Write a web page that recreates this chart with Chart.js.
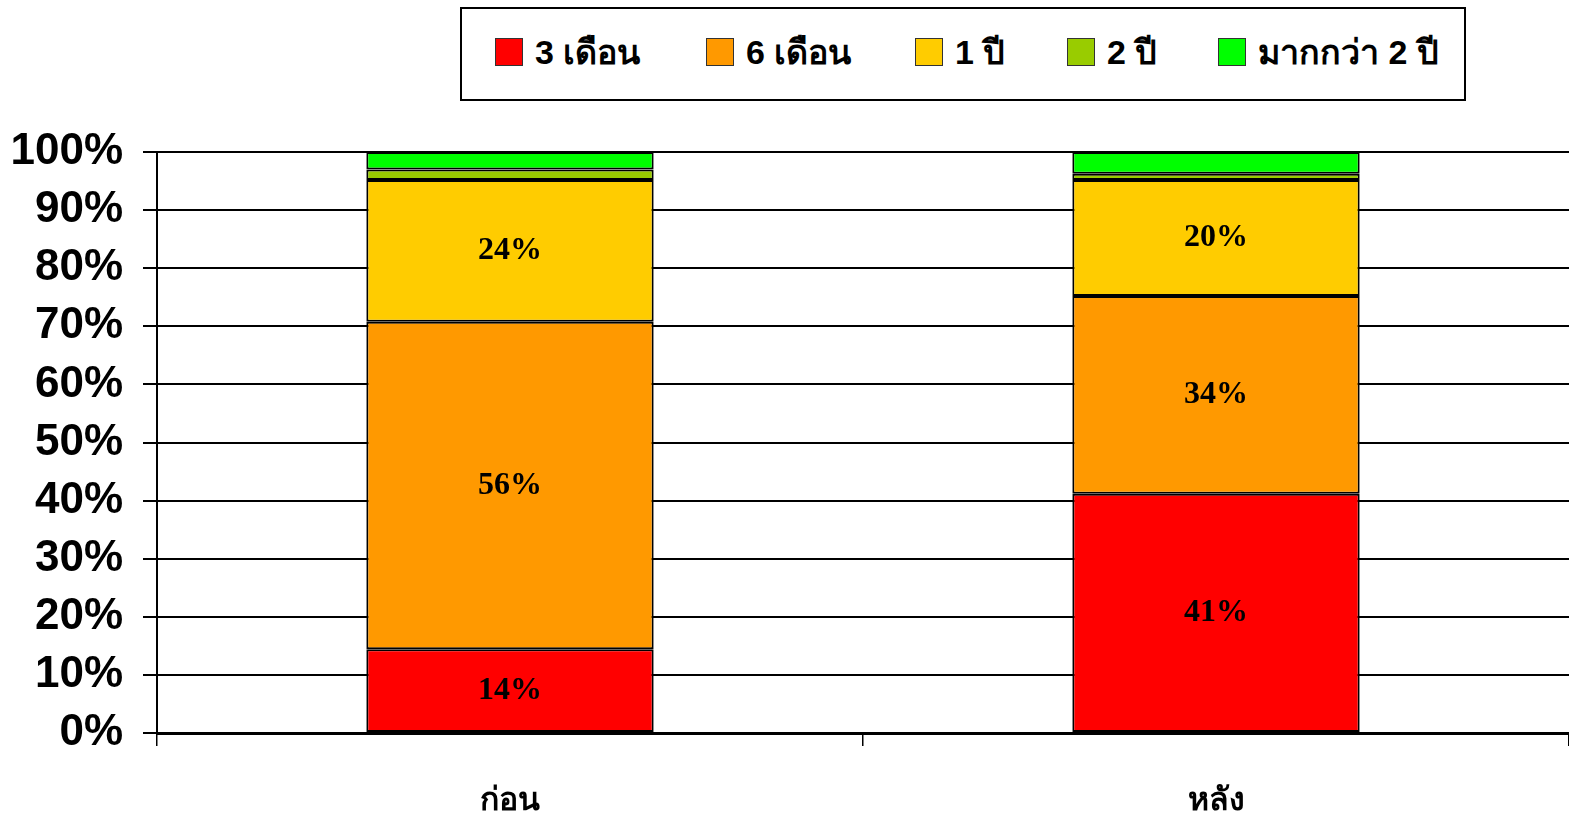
<!DOCTYPE html>
<html>
<head>
<meta charset="utf-8">
<script src="https://cdn.jsdelivr.net/npm/chart.js@4"></script>
<style>
  html, body { margin: 0; padding: 0; background: #fff; }
  #wrap { position: relative; width: 1569px; height: 819px; }
  #legend {
    position: absolute; left: 460px; top: 7px; width: 1002px; height: 90px;
    border: 2px solid #000; background: #fff;
    font: bold 34px "Liberation Sans", Arial, sans-serif; color: #000;
  }
  #legend .item { display: flex; align-items: center; position: absolute; top: 23px; height: 40px; }
  #legend .box { width: 26px; height: 26px; border: 1.5px solid #333; margin-right: 12px; }
</style>
</head>
<body>
<div id="wrap">
  <canvas id="c" width="1569" height="819"></canvas>
  <div id="legend"></div>
</div>
<script>
  // data
  const categories = ["ก่อน", "หลัง"];
  const seriesNames = ["3 เดือน", "6 เดือน", "1 ปี", "2 ปี", "มากกว่า 2 ปี"];
  const seriesColors = ["#FF0000", "#FF9900", "#FFCC00", "#99CC00", "#00FF00"];
  const threeMonths = [14.4, 41.2];
  const sixMonths = [56.4, 34.0];
  const oneYear = [24.4, 20.0];
  const twoYears = [1.8, 1.05];
  const moreThanTwo = [3.0, 3.75];
  const yTicks = [0, 10, 20, 30, 40, 50, 60, 70, 80, 90, 100];

  const seriesValues = [threeMonths, sixMonths, oneYear, twoYears, moreThanTwo];
  const legendX = [33, 244, 453, 605, 756];

  // html legend
  const leg = document.getElementById("legend");
  seriesNames.forEach((name, i) => {
    const it = document.createElement("div");
    it.className = "item";
    it.style.left = legendX[i] + "px";
    it.innerHTML = `<span class="box" style="background:${seriesColors[i]}"></span><span>${name}</span>`;
    leg.appendChild(it);
  });

  const segLabels = {
    id: "segLabels",
    afterDatasetsDraw(chart) {
      const ctx = chart.ctx;
      ctx.save();
      ctx.font = "bold 32px 'Liberation Serif', 'Times New Roman', serif";
      ctx.fillStyle = "#000";
      ctx.textAlign = "center";
      ctx.textBaseline = "middle";
      chart.data.datasets.forEach((ds, di) => {
        chart.getDatasetMeta(di).data.forEach((bar, j) => {
          const v = ds.data[j];
          if (v < 5) return;
          ctx.fillText(Math.round(v) + "%", bar.x, (bar.y + bar.base) / 2);
        });
      });
      ctx.restore();
    }
  };

  new Chart(document.getElementById("c"), {
    type: "bar",
    data: {
      labels: categories,
      datasets: seriesNames.map((name, i) => ({
        label: name,
        data: seriesValues[i],
        backgroundColor: seriesColors[i],
        borderColor: "#000",
        borderWidth: 2,
        borderSkipped: false,
        categoryPercentage: 1,
        barPercentage: 0.407,
      })),
    },
    options: {
      responsive: false,
      animation: false,
      layout: { padding: { left: 10, right: 0, top: 152, bottom: 0 } },
      plugins: { legend: { display: false }, tooltip: { enabled: false } },
      scales: {
        x: {
          stacked: true,
          afterFit: s => { s.height = 86; },
          grid: { drawOnChartArea: false, drawTicks: true, tickLength: 13, color: "#000", lineWidth: 1.5 },
          border: { color: "#000", width: 3 },
          ticks: {
            color: "#000",
            padding: 36,
            font: { family: "'Liberation Sans', Tahoma, sans-serif", size: 32, weight: "bold" },
          },
        },
        y: {
          stacked: true,
          min: 0, max: 100,
          afterFit: s => { s.width = 147; },
          afterBuildTicks: s => { s.ticks = yTicks.map(v => ({ value: v })); },
          grid: { color: "#000", lineWidth: 2, tickLength: 14 },
          border: { color: "#000", width: 2 },
          ticks: {
            color: "#000",
            padding: 20,
            callback: v => v + "%",
            font: { family: "'Liberation Sans', Arial, sans-serif", size: 44, weight: "bold" },
          },
        },
      },
    },
    plugins: [segLabels],
  });
</script>
</body>
</html>
